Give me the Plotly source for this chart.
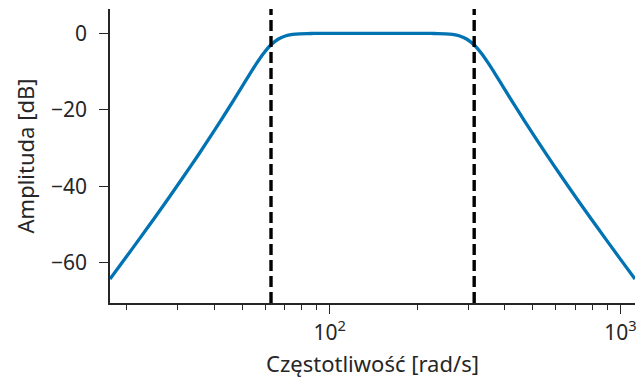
import math
import plotly.graph_objects as go

# Band-pass magnitude response, sampled frequencies [rad/s] and gain [dB]
freq = [17.55, 19.83, 22.25, 24.97, 28.01, 31.43, 35.27, 39.57, 44.40, 49.82,
        52.77, 55.89, 59.21, 62.71, 66.43, 70.37, 74.54, 78.95, 83.63, 88.59,
        99.40, 111.5, 140.4, 176.8, 198.3, 222.5, 235.7, 249.7, 264.5, 280.1,
        296.7, 314.3, 332.9, 352.7, 373.6, 395.7, 444.0, 498.2, 559.0, 627.1,
        703.7, 789.5, 885.9, 994.0, 1123.0]
gain_db = [-64.33, -58.84, -53.61, -48.32, -42.96, -37.48, -31.89, -26.13, -20.18, -14.05,
           -10.97, -7.98, -5.25, -3.04, -1.52, -0.66, -0.26, -0.09, -0.03, -0.01,
           0.0, 0.0, 0.0, 0.0, 0.0, -0.01, -0.03, -0.09, -0.26, -0.66,
           -1.52, -3.04, -5.25, -7.98, -10.97, -14.05, -20.18, -26.13, -31.89, -37.48,
           -42.96, -48.32, -53.61, -58.84, -64.33]

# Cut-off frequencies [rad/s]
cutoffs = [62.83, 314.16]

x_range = [17.55, 1123.0]
y_range = [-70.6, 6.4]
y_ticks = [0, -20, -40, -60]
y_ticktext = ["0", "\u221220", "\u221240", "\u221260"]
x_ticks = [100, 1000]
x_ticktext = ["10<sup>2</sup>", "10<sup>3</sup>"]
x_minor = [20, 30, 40, 50, 60, 70, 80, 90, 200, 300, 400, 500, 600, 700, 800, 900]

FONT = "Noto Sans"
AX = "#262626"

fig = go.Figure()
fig.add_trace(go.Scatter(
    x=freq, y=gain_db, mode="lines",
    line=dict(color="#0173B2", width=3.3, shape="spline", smoothing=0.6),
    showlegend=False, hoverinfo="skip",
))

for fc in cutoffs:
    fig.add_shape(type="line", x0=fc, x1=fc, xref="x", y0=0, y1=1, yref="paper",
                  line=dict(color="black", width=3.4, dash="11px,5px"))

fig.update_layout(
    width=640, height=385,
    margin=dict(l=110, r=3, t=9, b=82),
    paper_bgcolor="white", plot_bgcolor="white",
    font=dict(family=FONT, size=21, color=AX),
    xaxis=dict(
        type="log", range=[math.log10(x_range[0]), math.log10(x_range[1])],
        tickvals=x_ticks, ticktext=x_ticktext,
        ticks="outside", ticklen=9, tickwidth=1.3, tickcolor=AX,
        minor=dict(tickvals=x_minor, ticks="outside", ticklen=5, tickwidth=1.1, tickcolor=AX),
        showline=True, linecolor=AX, linewidth=1.5, showgrid=False, zeroline=False,
        title=dict(text="Częstotliwość [rad/s]", standoff=12, font=dict(size=22)),
        ticklabelstandoff=1,
    ),
    yaxis=dict(
        range=y_range, tickvals=y_ticks, ticktext=y_ticktext,
        ticks="outside", ticklen=9, tickwidth=1.3, tickcolor=AX,
        showline=True, linecolor=AX, linewidth=1.5, showgrid=False, zeroline=False,
        title=dict(text="Amplituda [dB]", standoff=10, font=dict(size=22)),
        ticklabelstandoff=8,
    ),
)

fig.write_html("out.html")
